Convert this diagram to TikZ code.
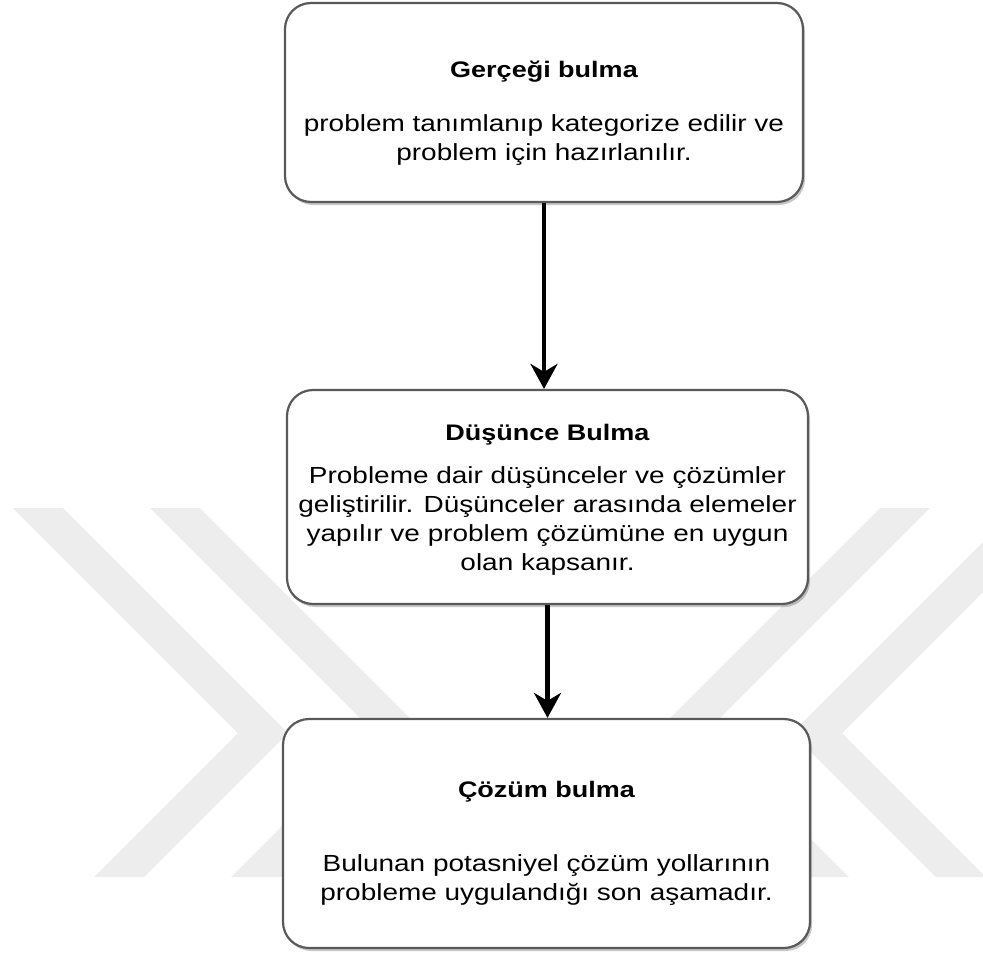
\documentclass[tikz,border=0pt]{standalone}
\usepackage{fontspec}
\setmainfont[FakeStretch=1.2]{Liberation Sans}
\usetikzlibrary{arrows.meta,shadows,positioning}

\tikzset{
  stagebox/.style={draw=black!65, line width=2.2pt, fill=white,
    rounded corners=26pt, inner sep=0pt,
    drop shadow={shadow xshift=2pt, shadow yshift=-3pt, fill=black, opacity=0.22}},
  stagetitle/.style={anchor=base, inner sep=0pt, font=\fontsize{22.5}{27}\selectfont\bfseries},
  stagetext/.style={anchor=base, inner sep=0pt, align=center, font=\fontsize{23.3}{28.8}\selectfont},
  flowarrow/.style={line width=4.5pt, -{Stealth[length=25pt, width=27pt, inset=8pt]}},
  wmark/.style={fill=black!7}
}

\begin{document}
\begin{tikzpicture}[x=1pt, y=-1pt]
  \useasboundingbox (0,0) rectangle (983,956);

  % watermark behind the flow
  \begin{scope}
    \clip (0,0) rectangle (983,956);
    \foreach \a in {13,150} {
      \fill[wmark] (\a,508) -- (\a+50,508) -- (\a+275,733) -- (\a+131,877)
        -- (\a+81,877) -- (\a+225,733) -- cycle;
      \fill[wmark] (1080-\a,508) -- (1030-\a,508) -- (805-\a,733) -- (949-\a,877)
        -- (999-\a,877) -- (855-\a,733) -- cycle;
    }
  \end{scope}

  % stage 1 (text nodes sit on the baseline of their last line)
  \node[stagebox, minimum width=518pt, minimum height=199pt] (b1) at (544,102.5) {};
  \node[stagetitle] (t1) at (544,77) {Gerçeği bulma};
  \node[stagetext] (d1) at (544,160) {problem tanımlanıp kategorize edilir ve\\problem için hazırlanılır.};

  % stage 2
  \node[stagebox, minimum width=521pt, minimum height=214pt] (b2) at (547.5,497) {};
  \node[stagetitle] (t2) at (547.5,440) {Düşünce Bulma};
  \node[stagetext] (d2) at (547.5,570) {Probleme dair düşünceler ve çözümler\\geliştirilir. Düşünceler arasında elemeler\\yapılır ve problem çözümüne en uygun\\olan kapsanır.};

  % stage 3
  \node[stagebox, minimum width=527pt, minimum height=229pt] (b3) at (546.5,833.5) {};
  \node[stagetitle] (t3) at (546.5,797) {Çözüm bulma};
  \node[stagetext] (d3) at (546.5,900) {Bulunan potasniyel çözüm yollarının\\probleme uygulandığı son aşamadır.};

  % arrows
  \draw[flowarrow] (b1.south) -- (b1.south |- b2.north);
  \draw[flowarrow] (b2.south) -- (b2.south |- b3.north);
\end{tikzpicture}
\end{document}
